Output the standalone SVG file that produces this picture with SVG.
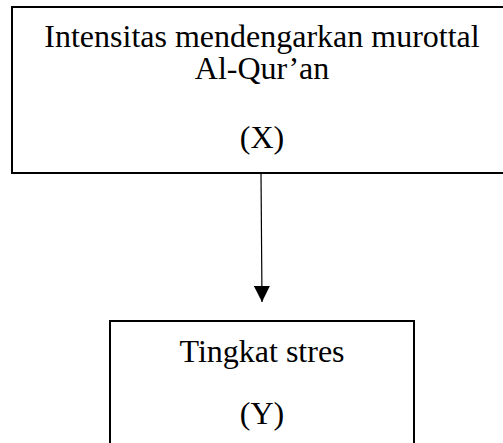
<svg xmlns="http://www.w3.org/2000/svg" width="503" height="443" viewBox="0 0 503 443">
<style>
.box{fill:#fff;stroke:#000;stroke-width:2}
.t{font-family:"Liberation Serif","Times New Roman",serif;font-size:32px;fill:#000;text-anchor:middle}
.c{stroke:#000;stroke-width:1.2;fill:none}
</style>
<defs>
<marker id="ah" markerUnits="userSpaceOnUse" markerWidth="16" markerHeight="16" viewBox="0 0 16 16" refX="16" refY="8" orient="auto">
<path d="M0,0 L16,8 L0,16 Z" fill="#000"/>
</marker>
</defs>
<rect width="503" height="443" fill="#fff"/>
<g id="nodeX">
<rect class="box" x="12" y="7" width="500" height="166"/>
<text class="t" x="262" y="47">Intensitas mendengarkan murottal</text>
<text class="t" x="262" y="79">Al-Qur’an</text>
<text class="t" x="262" y="148">(X)</text>
</g>
<g id="nodeY">
<rect class="box" x="110" y="321" width="304" height="140"/>
<text class="t" x="262" y="362">Tingkat stres</text>
<text class="t" x="262" y="424">(Y)</text>
</g>
<g id="connectors">
<line class="c" x1="261" y1="173" x2="262" y2="302" marker-end="url(#ah)"/>
</g>
</svg>
